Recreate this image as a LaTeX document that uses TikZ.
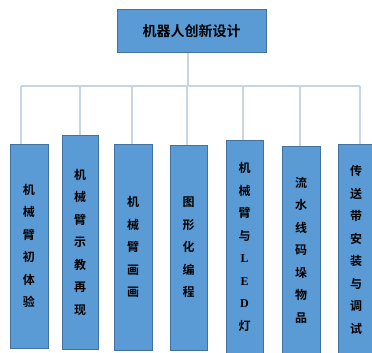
\documentclass[tikz,border=0pt]{standalone}
\usepackage{fontspec}
\setmainfont{Liberation Serif}
\newfontfamily\cjk{Noto Sans CJK SC}[BoldFont={* Bold}]
\definecolor{boxfill}{HTML}{5B9BD5}
\definecolor{boxdraw}{HTML}{41719C}
\definecolor{conn}{HTML}{C9D5E4}
\begin{document}
\begin{tikzpicture}[x=1pt,y=-1pt,
  box/.style={draw=boxdraw,fill=boxfill,line width=1pt,inner sep=0pt,
    text=black,align=center,font=\cjk\bfseries\fontsize{12}{22.5}\selectfont},
  title/.style={draw=boxdraw,fill=boxfill,line width=1pt,inner sep=0pt,
    text=black,font=\cjk\bfseries\fontsize{14}{16}\selectfont},
  conn/.style={draw=conn,line width=1.2pt}]
\useasboundingbox (0,0) rectangle (372,353);
\node[title,minimum width=149pt,minimum height=43pt] (top) at (191.5,31.5) {机器人创新设计};
\node[box,minimum width=38pt,minimum height=204pt] (b1) at (29,246) {机\\械\\臂\\初\\体\\验};
\node[box,minimum width=36pt,minimum height=214pt] (b2) at (80,242) {机\\械\\臂\\示\\教\\再\\现};
\node[box,minimum width=38pt,minimum height=206pt] (b3) at (133,247) {机\\械\\臂\\画\\画};
\node[box,minimum width=37pt,minimum height=205pt] (b4) at (188.5,247.5) {图\\形\\化\\编\\程};
\node[box,minimum width=37pt,minimum height=214pt] (b5) at (244.5,247) {机\\械\\臂\\与\\{\rmfamily L}\\{\rmfamily E}\\{\rmfamily D}\\灯};
\node[box,minimum width=38pt,minimum height=208pt] (b6) at (301,250) {流\\水\\线\\码\\垛\\物\\品};
\node[box,minimum width=36pt,minimum height=212pt] (b7) at (356,250) {传\\送\\带\\安\\装\\与\\调\\试};
\coordinate (hub) at (188,86);
\coordinate (l) at (21,86);
\coordinate (r) at (360,86);
\coordinate (t2) at (80,86);
\coordinate (t3) at (132,86);
\coordinate (t4) at (187,86);
\coordinate (t5) at (243,86);
\coordinate (t6) at (300,86);
\draw[conn] (top.south -| hub) -- (hub);
\draw[conn] (l) -- (r);
\draw[conn] (l) -- (l |- b1.north);
\draw[conn] (t2) -- (t2 |- b2.north);
\draw[conn] (t3) -- (t3 |- b3.north);
\draw[conn] (t4) -- (t4 |- b4.north);
\draw[conn] (t5) -- (t5 |- b5.north);
\draw[conn] (t6) -- (t6 |- b6.north);
\draw[conn] (r) -- (r |- b7.north);
\end{tikzpicture}
\end{document}
